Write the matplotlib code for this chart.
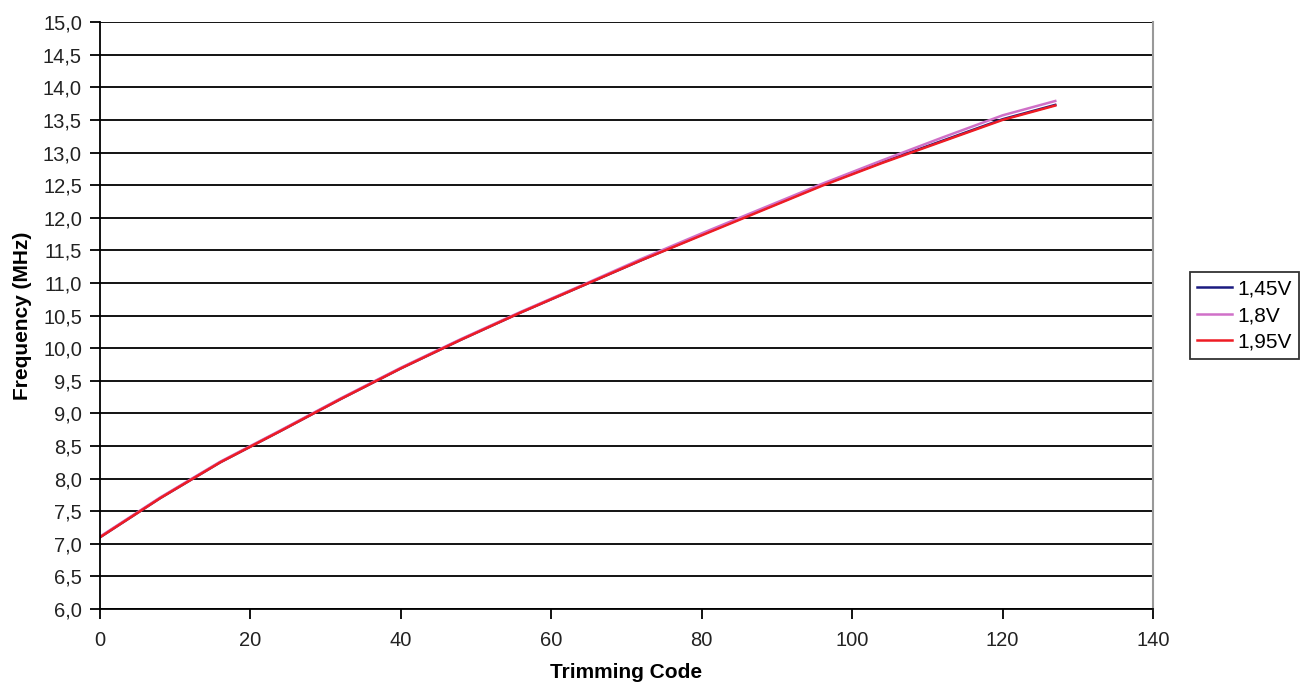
import numpy as np
import matplotlib.pyplot as plt
from matplotlib.ticker import FuncFormatter, MultipleLocator
plt.switch_backend('agg')

plt.rcParams['font.family'] = ['Liberation Sans', 'DejaVu Sans']

codes = [0, 8, 16, 24, 32, 40, 48, 56, 64, 72, 80, 88, 96, 104, 112, 120, 127]
f_145 = [7.10, 7.70, 8.25, 8.73, 9.22, 9.69, 10.13, 10.55, 10.95, 11.35, 11.74, 12.12, 12.50, 12.85, 13.18, 13.51, 13.73]
f_180 = [7.11, 7.71, 8.26, 8.74, 9.23, 9.70, 10.14, 10.56, 10.96, 11.37, 11.76, 12.14, 12.52, 12.88, 13.23, 13.57, 13.79]
f_195 = [7.10, 7.70, 8.25, 8.73, 9.22, 9.69, 10.13, 10.55, 10.95, 11.35, 11.73, 12.11, 12.49, 12.84, 13.17, 13.50, 13.72]
labels = ['1,45V', '1,8V', '1,95V']
colors = ['#1a1a80', '#d070c8', '#ee1c24']

fig = plt.figure(figsize=(13.02, 6.9), dpi=100)
ax = fig.add_axes([0.0768, 0.1174, 0.8088, 0.8506])

for vals, lab, col in zip([f_145, f_180, f_195], labels, colors):
    ax.plot(codes, vals, color=col, lw=1.8, label=lab)

ax.set_xlim(0, 140)
ax.set_ylim(6.0, 15.0)
ax.xaxis.set_major_locator(MultipleLocator(20))
ax.yaxis.set_major_locator(MultipleLocator(0.5))
ax.yaxis.set_major_formatter(FuncFormatter(lambda v, p: f"{v:.1f}".replace('.', ',')))
ax.grid(axis='y', color='black', lw=1.3)
ax.set_axisbelow(True)

ax.spines['top'].set_visible(False)
ax.spines['right'].set_color('#999999')
ax.spines['right'].set_linewidth(1.5)
ax.spines['left'].set_linewidth(1.3)
ax.spines['bottom'].set_linewidth(1.3)
ax.tick_params(direction='out', length=7, width=1.3, labelsize=14.5, colors='black', labelcolor='#222222')
ax.tick_params(axis='x', pad=9)
ax.tick_params(axis='y', pad=6)

ax.set_xlabel('Trimming Code', fontsize=15, fontweight='bold', labelpad=9)
ax.set_ylabel('Frequency (MHz)', fontsize=15, fontweight='bold', labelpad=8)

leg = ax.legend(loc='center left', bbox_to_anchor=(1.035, 0.5), frameon=True, fancybox=False,
                edgecolor='black', fontsize=15, handlelength=1.65, handletextpad=0.3,
                borderpad=0.35, labelspacing=0.35, borderaxespad=0)
leg.get_frame().set_linewidth(1.3)

fig.savefig('out.png', dpi=100)
